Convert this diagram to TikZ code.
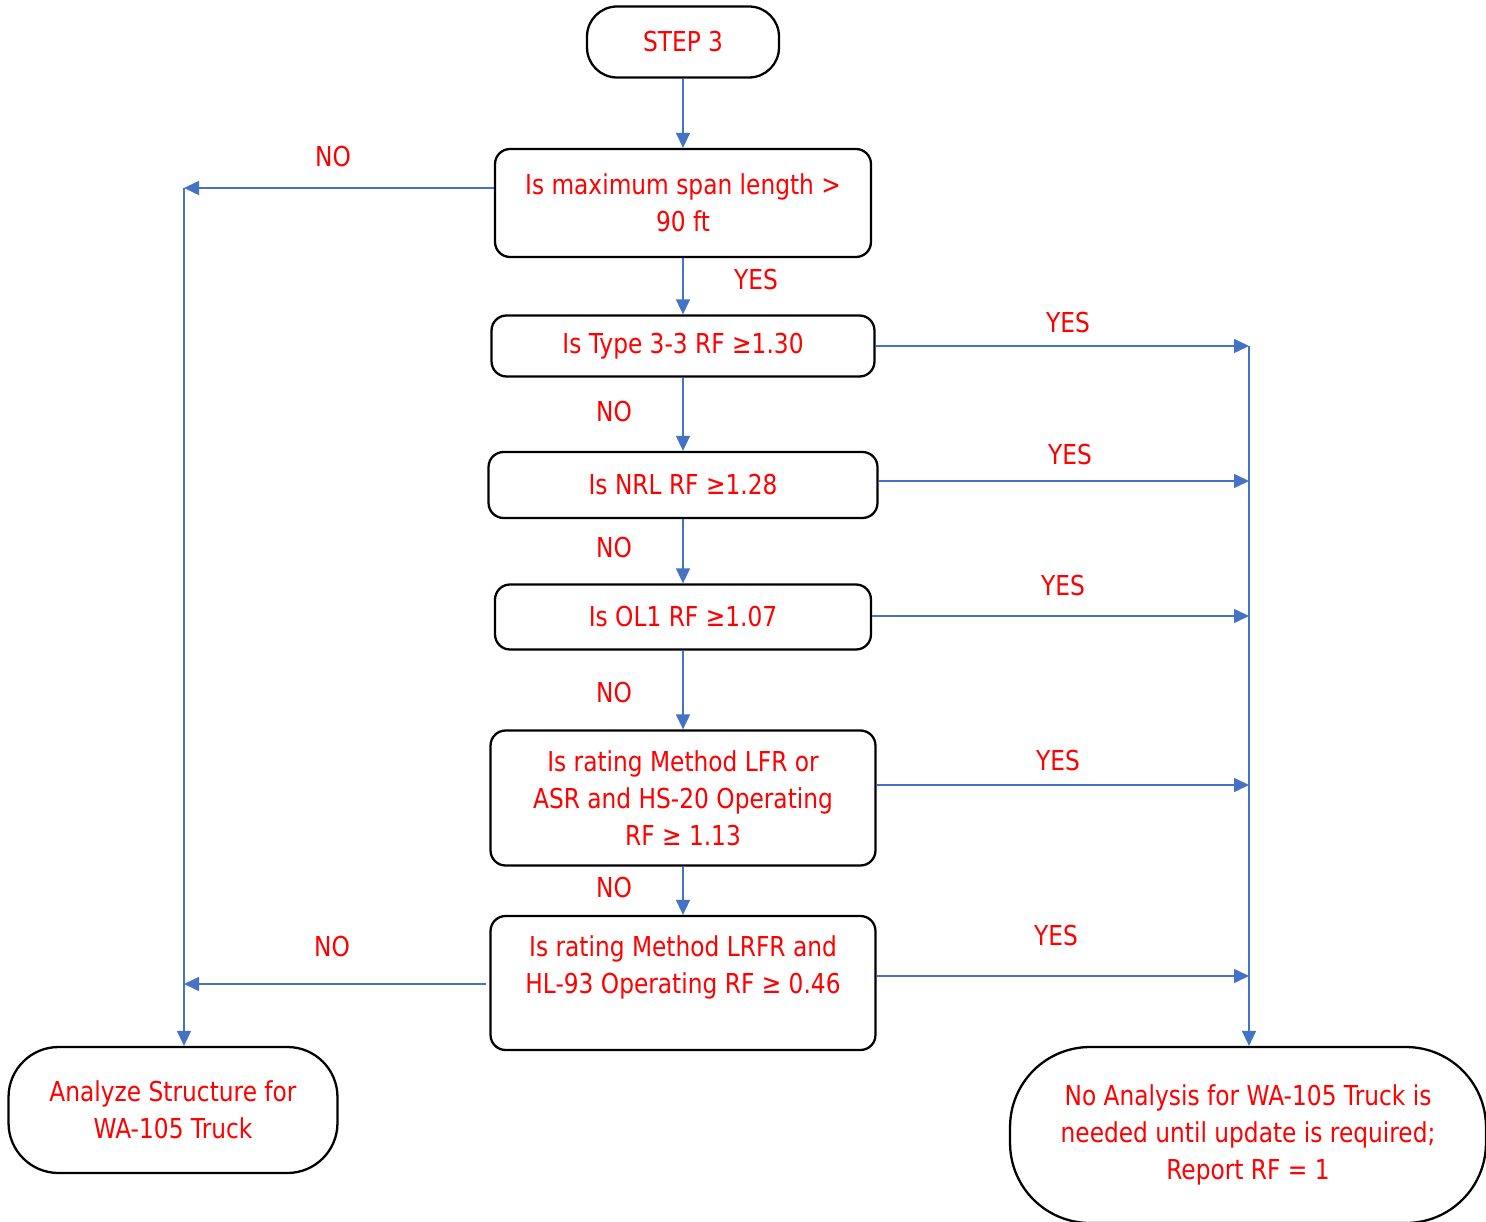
\documentclass[tikz,border=0pt]{standalone}
\usepackage{fontspec}
\setmainfont{DejaVu Sans}[FakeStretch=0.85]
\usepackage{tikz}
\usetikzlibrary{arrows.meta,positioning,calc}
\definecolor{flowRed}{HTML}{FF0000}
\definecolor{flowBlue}{HTML}{4472C4}

\begin{document}
\begin{tikzpicture}[
    x=0.02cm, y=-0.02cm,
    font=\fontsize{15.6}{21}\selectfont,
    box/.style={draw, line width=1.3pt, rounded corners=0.3cm, align=center, inner sep=0pt, text=flowRed, fill=white},
    term/.style={box, rounded corners=1.0cm},
    arrow/.style={-{Triangle[length=0.3cm, width=0.28cm]}, flowBlue, line width=0.9pt},
    link/.style={flowBlue, line width=0.9pt},
    tag/.style={text=flowRed, inner sep=0pt}
]
\useasboundingbox (0,0) rectangle (1486,1222);

\node[box, rounded corners=0.6cm, minimum width=3.84cm, minimum height=1.42cm] (step) at (683,42) {STEP 3};
\node[box, minimum width=7.52cm, minimum height=2.16cm] (span) at (683,203) {Is maximum span length >\\90 ft};
\node[box, minimum width=7.66cm, minimum height=1.22cm] (type) at (683,346) {Is Type 3-3 RF ≥1.30};
\node[box, minimum width=7.78cm, minimum height=1.32cm] (nrl) at (683,485) {Is NRL RF ≥1.28};
\node[box, minimum width=7.52cm, minimum height=1.30cm] (olone) at (683,617) {Is OL1 RF ≥1.07};
\node[box, minimum width=7.70cm, minimum height=2.70cm] (lfr) at (683,798) {Is rating Method LFR or\\ASR and HS-20 Operating\\RF ≥ 1.13};
\node[box, minimum width=7.70cm, minimum height=2.68cm, text depth=0.72cm] (lrfr) at (683,983) {Is rating Method LRFR and\\HL-93 Operating RF ≥ 0.46};

\node[term, minimum width=6.58cm, minimum height=2.52cm] (analyze) at (173,1110) {Analyze Structure for\\WA-105 Truck};
\node[term, rounded corners=1.6cm, minimum width=9.52cm, minimum height=3.52cm] (noanalysis) at (1248,1135) {No Analysis for WA-105 Truck is\\needed until update is required;\\Report RF = 1};

% left and right spines
\coordinate (ltop) at (184,188);
\coordinate (lbot) at (184,984);
\coordinate (r1) at (1249,346);
\coordinate (r2) at (1249,481);
\coordinate (r3) at (1249,616);
\coordinate (r4) at (1249,785);
\coordinate (r5) at (1249,976);

\draw[arrow] (step) -- (span);
\draw[arrow] (span) -- (type);
\draw[arrow] (type) -- (nrl);
\draw[arrow] (nrl) -- (olone);
\draw[arrow] (olone) -- (lfr);
\draw[arrow] (lfr) -- (lrfr);

\draw[arrow] (span.west |- ltop) -- (ltop);
\draw[arrow] ([xshift=-2pt]lrfr.west |- lbot) -- (lbot);
\draw[arrow] (ltop) -- (analyze.north -| ltop);

\draw[arrow] (type.east |- r1) -- (r1);
\draw[arrow] (nrl.east |- r2) -- (r2);
\draw[arrow] (olone.east |- r3) -- (r3);
\draw[arrow] (lfr.east |- r4) -- (r4);
\draw[arrow] (lrfr.east |- r5) -- (r5);
\draw[arrow] (r1) -- (noanalysis.north -| r1);

\node[tag] (no1) at (333,157) {NO};
\node[tag] (yes1) at (756,280) {YES};
\node[tag] (no2) at (614,412) {NO};
\node[tag] (no3) at (614,548) {NO};
\node[tag] (no4) at (614,693) {NO};
\node[tag] (no5) at (614,888) {NO};
\node[tag] (no6) at (332,947) {NO};
\node[tag] (yes2) at (1068,323) {YES};
\node[tag] (yes3) at (1070,455) {YES};
\node[tag] (yes4) at (1063,586) {YES};
\node[tag] (yes5) at (1058,761) {YES};
\node[tag] (yes6) at (1056,936) {YES};

\end{tikzpicture}
\end{document}
